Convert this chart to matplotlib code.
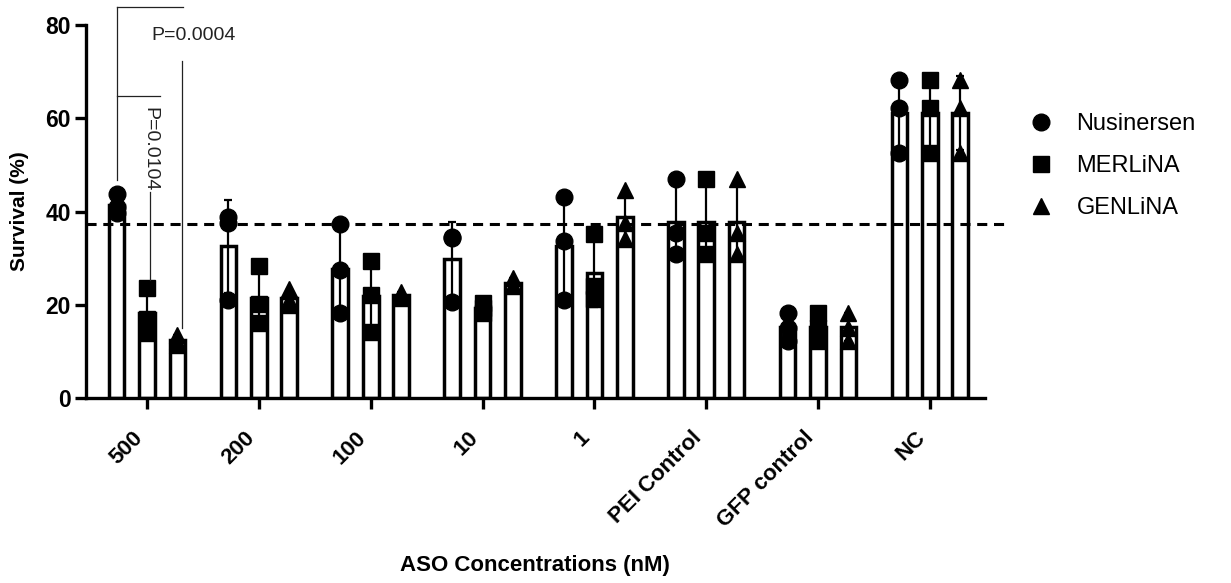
import matplotlib
matplotlib.use("Agg")
import matplotlib.pyplot as plt
from matplotlib.lines import Line2D
import numpy as np

#####################################################
# DATA
#####################################################

groups = ["500", "200", "100", "10", "1", "PEI Control", "GFP control", "NC"]
series = ["Nusinersen", "MERLiNA", "GENLiNA"]
markers = ["o", "s", "^"]

# individual replicates (survival %), one list per group
nusinersen = [
    [43.7, 41.0, 39.6],
    [38.9, 37.6, 21.0],
    [37.3, 27.5, 18.2],
    [34.6, 34.3, 20.6],
    [43.2, 33.7, 21.0],
    [46.9, 35.3, 30.8],
    [18.2, 15.1, 12.2],
    [68.3, 62.3, 52.6],
]
merlina = [
    [23.5, 17.0, 14.0],
    [28.4, 20.2, 16.0],
    [29.3, 22.0, 14.2],
    [20.4, 19.2, 18.3],
    [35.1, 24.0, 21.3],
    [46.9, 35.3, 30.8],
    [18.2, 15.1, 12.2],
    [68.3, 62.3, 52.6],
]
genlina = [
    [13.5, 12.3, 11.4],
    [23.3, 21.0, 20.0],
    [22.8, 21.9, 21.5],
    [25.8, 24.2, 24.0],
    [44.6, 37.6, 34.2],
    [46.9, 35.3, 30.8],
    [18.2, 15.1, 12.2],
    [68.3, 62.3, 52.6],
]
ref_line = 37.3

p_labels = ["P=0.0004", "P=0.0104"]

#####################################################
# PLOT
#####################################################

plt.rcParams["font.family"] = ["Liberation Sans", "DejaVu Sans"]

fig = plt.figure(figsize=(12.31, 5.83), dpi=100)
ax = fig.add_axes([0.0699, 0.3173, 0.730, 0.6398])

x = np.arange(len(groups))
offsets = [-0.272, 0.0, 0.272]
width = 0.14

for data, off, mk in zip([nusinersen, merlina, genlina], offsets, markers):
    arr = np.array(data)
    means = arr.mean(axis=1)
    sds = arr.std(axis=1, ddof=1)
    xs = x + off
    ax.bar(xs, means, width=width, color="white", edgecolor="black",
           linewidth=2.5, zorder=2)
    ax.errorbar(xs, means, yerr=sds, fmt="none", ecolor="black",
                elinewidth=1.6, capsize=3, capthick=1.6, zorder=3)
    for xi, vals in zip(xs, arr):
        ax.plot(np.full(len(vals), xi), vals, linestyle="none", marker=mk,
                markersize=12, color="black", zorder=4)

# reference dashed line
ax.plot([-0.545, 7.72], [ref_line, ref_line], color="black", linewidth=2.2,
        linestyle=(0, (3.3, 2.2)), zorder=5, clip_on=False)

# significance brackets
lk = dict(color="#222222", linewidth=0.9, clip_on=False, zorder=6)
ax.plot([-0.272, -0.272], [46.8, 83.9], **lk)
ax.plot([-0.272, 0.318], [83.9, 83.9], **lk)
ax.plot([0.31, 0.31], [72.2, 15.0], **lk)
ax.text(0.04, 77.7, p_labels[0], fontsize=14, ha="left", va="center",
        color="#222222")
ax.plot([-0.272, 0.12], [64.7, 64.7], **lk)
ax.text(0.027, 53.3, p_labels[1], fontsize=14, ha="center", va="center",
        rotation=-90, color="#222222")
ax.plot([0.027, 0.027], [44.2, 25.3], **lk)

# axes formatting
ax.set_xlim(-0.545, 7.49)
ax.set_ylim(0, 80)
ax.set_yticks([0, 20, 40, 60, 80])
ax.set_xticks(x)
ax.set_xticklabels(groups, rotation=45, ha="right", fontsize=16,
                   fontweight="bold")
for lab in ax.get_yticklabels():
    lab.set_fontsize(16.5)
    lab.set_fontweight("bold")
ax.tick_params(axis="both", width=2.4, length=8, color="black")
ax.tick_params(axis="x", pad=13)
ax.tick_params(axis="y", pad=3)
ax.spines["top"].set_visible(False)
ax.spines["right"].set_visible(False)
ax.spines["left"].set_linewidth(2.4)
ax.spines["bottom"].set_linewidth(2.4)

ax.set_ylabel("Survival (%)", fontsize=15, fontweight="bold", labelpad=12)
fig.text(535 / 1231, 1 - 566 / 583, "ASO Concentrations (nM)", fontsize=16,
         fontweight="bold", ha="center", va="center")

# legend
handles = [Line2D([], [], linestyle="none", marker=m, color="black",
                  markersize=12) for m in markers]
fig.legend(handles, series, loc="upper left",
           bbox_to_anchor=(1008 / 1231, 1 - 92 / 583), frameon=False,
           fontsize=17, handletextpad=1.0, labelspacing=0.85,
           handlelength=1.0)

fig.savefig("out.png", dpi=100)
plt.close()
